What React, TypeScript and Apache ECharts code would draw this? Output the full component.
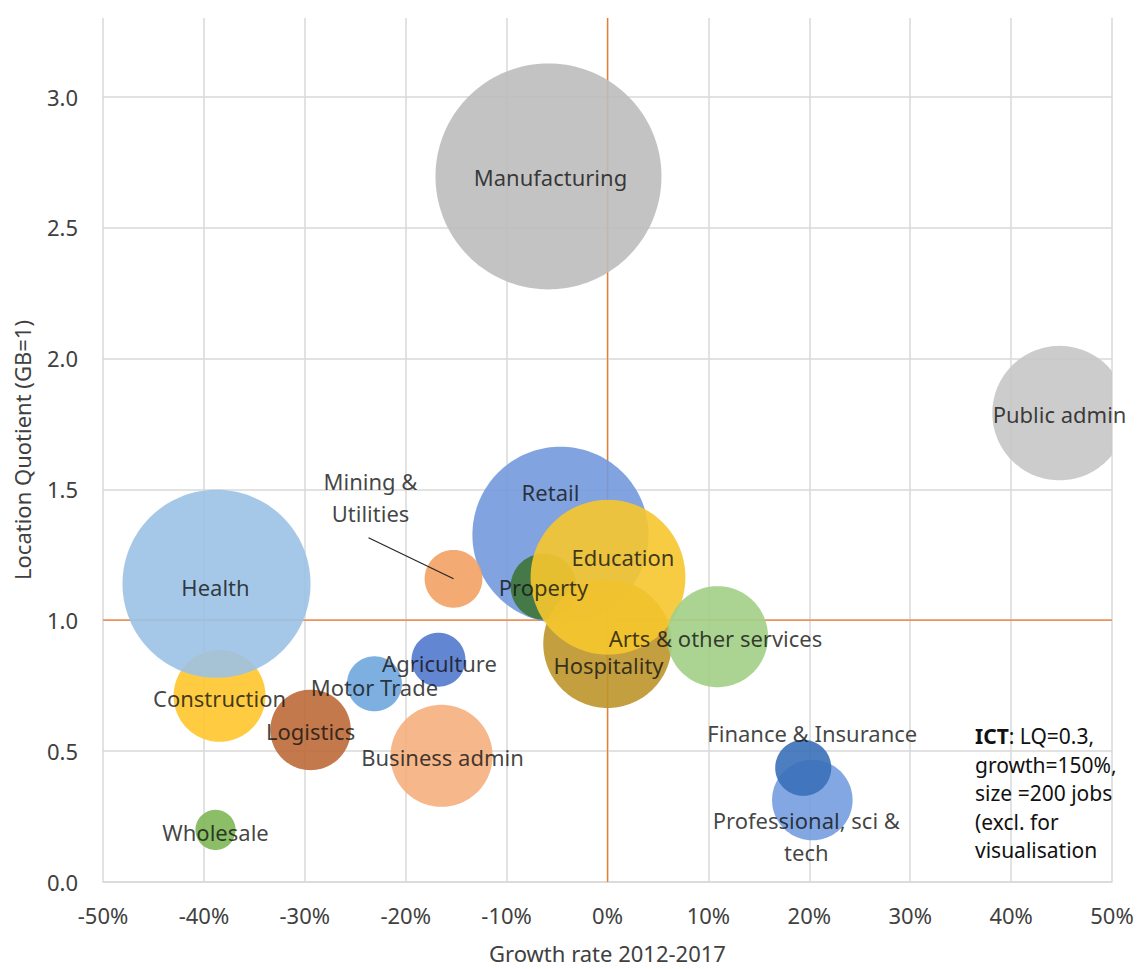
import React, { useEffect, useRef } from 'react';
import * as echarts from 'echarts';

// ---- data (drawing order = stacking order) ----
const sectors = [
  'Manufacturing', 'Public admin', 'Retail', 'Property', 'Hospitality', 'Education',
  'Arts & other services', 'Construction', 'Health', 'Wholesale', 'Logistics',
  'Motor Trade', 'Agriculture', 'Business admin', 'Mining &\nUtilities',
  'Professional, sci &\ntech', 'Finance & Insurance',
];
const growthPct = [-5.85, 44.8, -4.66, -6.34, 0.0, 0.05, 10.9, -38.45, -38.75, -38.85, -29.43, -23.1, -16.75, -16.45, -15.26, 20.3, 19.4];
const locationQuotient = [2.695, 1.791, 1.326, 1.128, 0.91, 1.164, 0.937, 0.711, 1.139, 0.199, 0.581, 0.757, 0.849, 0.482, 1.158, 0.313, 0.436];
const jobs = [13000, 4600, 7900, 1100, 4200, 6100, 2600, 2150, 9000, 410, 1650, 770, 740, 2650, 850, 1650, 800];

const xTicks = { min: -50, max: 50, interval: 10 };
const yTicks = { min: 0, max: 3.3, interval: 0.5 };
const refGrowth = 0;
const refLQ = 1;
const ict = { lq: 0.3, growth: 150, size: 200 };

// ---- styles ----
const colors = [
  '#BDBDBD', '#C6C6C6', '#7399DC', '#3F7437', '#BC952A', '#F6C62E',
  '#A2CF86', '#FFC72C', '#9CC2E6', '#7FB656', '#BD6A37',
  '#6FA7DE', '#5279CE', '#F5AF7E', '#F2A164',
  '#769DE0', '#3A70B8',
];
const labelOffsets = [
  [2, 1], [0, 1], [-10, -43], [0, 0], [1, 21], [15, -20],
  [-2, 1], [0, 2], [-1, 3], [0, 2], [0, 1],
  [0, 3], [1, 3], [1, 1], [-83, -82],
  [-6, 36], [9, -35],
];
const MAX_DIAMETER = 226;
const FONT = '"Noto Sans", "Open Sans", sans-serif';

export default function App() {
  const ref = useRef<HTMLDivElement>(null);
  useEffect(() => {
    if (!ref.current) return;
    const chart = echarts.init(ref.current, null, { renderer: 'svg' });
    const maxJobs = Math.max(...jobs);
    const bubbleData = sectors.map((name, i) => ({
      name,
      value: [growthPct[i], locationQuotient[i], jobs[i]],
    }));
    const labelData = sectors.map((name, i) => ({
      name,
      value: [growthPct[i], locationQuotient[i]],
      label: { offset: labelOffsets[i] },
    }));
    chart.setOption({
      animation: false,
      textStyle: { fontFamily: FONT },
      grid: { left: 103, right: 27, top: 18, bottom: 87 },
      xAxis: {
        type: 'value',
        min: xTicks.min,
        max: xTicks.max,
        interval: xTicks.interval,
        name: 'Growth rate 2012-2017',
        nameLocation: 'middle',
        nameGap: 60,
        nameTextStyle: { fontSize: 22, color: '#404040', fontFamily: FONT },
        axisLine: { show: true, lineStyle: { color: '#D9D9D9', width: 1.5 } },
        axisTick: { show: false },
        axisLabel: { formatter: '{value}%', fontSize: 22, color: '#404040', margin: 22, fontFamily: FONT },
        splitLine: { show: true, lineStyle: { color: '#D9D9D9', width: 1.5 } },
      },
      yAxis: {
        type: 'value',
        min: yTicks.min,
        max: yTicks.max,
        interval: yTicks.interval,
        name: 'Location Quotient (GB=1)',
        nameLocation: 'middle',
        nameGap: 70,
        nameTextStyle: { fontSize: 22, color: '#404040', fontFamily: FONT },
        axisLine: { show: false },
        axisTick: { show: false },
        axisLabel: {
          formatter: (v: number) => v.toFixed(1),
          fontSize: 22, color: '#404040', margin: 25, showMaxLabel: false, fontFamily: FONT,
        },
        splitLine: { show: true, showMaxLine: false, lineStyle: { color: '#D9D9D9', width: 1.5 } },
      },
      series: [
        {
          type: 'line',
          z: 1,
          symbol: 'none',
          silent: true,
          data: [[refGrowth, yTicks.min], [refGrowth, yTicks.max]],
          lineStyle: { color: '#F07A2C', width: 1.3 },
        },
        {
          type: 'line',
          z: 1,
          symbol: 'none',
          silent: true,
          data: [[xTicks.min, refLQ], [xTicks.max, refLQ]],
          lineStyle: { color: '#F07A2C', width: 1.3 },
        },
        {
          type: 'custom',
          z: 2,
          data: bubbleData,
          encode: { x: 0, y: 1 },
          renderItem: (params: any, api: any) => {
            const i = params.dataIndex;
            const c = api.coord([api.value(0), api.value(1)]);
            const r = (MAX_DIAMETER * Math.sqrt((api.value(2) as number) / maxJobs)) / 2;
            const cs = params.coordSys;
            const x0 = cs.x, x1 = cs.x + cs.width, y0 = cs.y, y1 = cs.y + cs.height;
            const pts: number[][] = [];
            const n = 160;
            for (let k = 0; k < n; k++) {
              const a = (k / n) * Math.PI * 2;
              const px = Math.min(x1, Math.max(x0, c[0] + r * Math.cos(a)));
              const py = Math.min(y1, Math.max(y0, c[1] + r * Math.sin(a)));
              pts.push([px, py]);
            }
            return {
              type: 'polygon',
              shape: { points: pts },
              style: { fill: colors[i], opacity: 0.9 },
            };
          },
        },
        {
          type: 'scatter',
          z: 3,
          clip: false,
          silent: true,
          symbolSize: 1,
          itemStyle: { color: 'rgba(0,0,0,0)' },
          data: labelData,
          label: {
            show: true,
            position: 'inside',
            formatter: (p: any) => p.name,
            fontSize: 22,
            lineHeight: 32,
            color: '#111111',
            align: 'center',
            verticalAlign: 'middle',
            fontFamily: FONT,
          },
        },
      ],
    });

    const miningIdx = sectors.indexOf('Mining &\nUtilities');
    const p = chart.convertToPixel({ gridIndex: 0 }, [growthPct[miningIdx], locationQuotient[miningIdx]]) as number[];
    chart.setOption({
      graphic: [
        {
          type: 'line',
          z: 10,
          shape: { x1: p[0] - 85, y1: p[1] - 41, x2: p[0], y2: p[1] },
          style: { stroke: '#262626', lineWidth: 1.2 },
        },
        {
          type: 'text',
          z: 10,
          left: 975,
          top: 722,
          style: {
            text: `{b|ICT}: LQ=${ict.lq},\ngrowth=${ict.growth}%,\nsize =${ict.size} jobs\n(excl. for\nvisualisation`,
            fontSize: 21,
            lineHeight: 28.5,
            fill: '#111111',
            fontFamily: FONT,
            rich: {
              b: { fontWeight: 'bold', fontSize: 21, lineHeight: 28.5, fontFamily: FONT, fill: '#111111' },
            },
          },
        },
      ],
    });
    return () => chart.dispose();
  }, []);
  return (
    <div
      ref={ref}
      style={{ position: 'fixed', left: 0, top: 0, width: 1139, height: 969, background: '#ffffff' }}
    />
  );
}
